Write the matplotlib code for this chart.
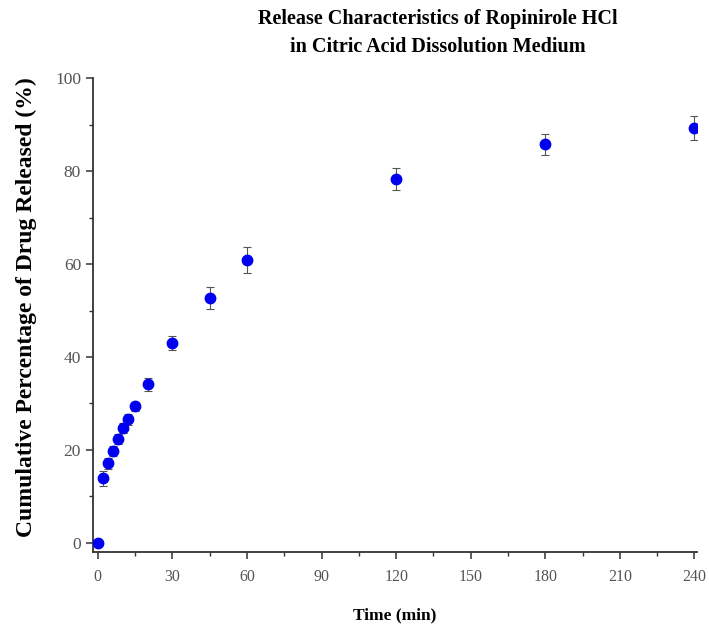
import matplotlib

matplotlib.use("Agg")
import matplotlib.pyplot as plt
from matplotlib.ticker import MultipleLocator

time_min = [0, 2, 4, 6, 8, 10, 12, 15, 20, 30, 45, 60, 120, 180, 240]
released_pct = [0.0, 13.9, 17.1, 19.8, 22.4, 24.8, 26.6, 29.4, 34.1, 43.0, 52.7, 60.9, 78.3, 85.8, 89.3]
released_sd = [0.5, 1.6, 1.2, 1.1, 1.1, 1.1, 1.2, 1.0, 1.4, 1.6, 2.4, 2.8, 2.4, 2.3, 2.6]

plt.rcParams["font.family"] = ["Liberation Serif", "DejaVu Serif"]

fig = plt.figure(figsize=(7.09, 6.31), dpi=100)
ax = fig.add_axes([0.131, 0.125, 0.852, 0.751])

ax.errorbar(
    time_min,
    released_pct,
    yerr=released_sd,
    fmt="o",
    color="#0000f0",
    markersize=7.5,
    ecolor="#555555",
    elinewidth=0.8,
    capsize=3,
    capthick=0.8,
    zorder=3,
)

ax.set_xlim(-2, 241)
ax.set_ylim(-2, 100)
ax.xaxis.set_major_locator(MultipleLocator(30))
ax.xaxis.set_minor_locator(MultipleLocator(15))
ax.yaxis.set_major_locator(MultipleLocator(20))
ax.yaxis.set_minor_locator(MultipleLocator(10))

for side in ("top", "right"):
    ax.spines[side].set_visible(False)
for side in ("left", "bottom"):
    ax.spines[side].set_linewidth(1.3)
    ax.spines[side].set_color("#333333")

ax.tick_params(which="major", length=5, width=1.1, color="#333333", labelsize=11.5, labelcolor="#555555")
ax.tick_params(axis="y", which="major", labelsize=12.5)
ax.tick_params(axis="x", which="major", pad=7)
ax.tick_params(which="minor", length=3, width=1.0, color="#333333")

ax.set_xlabel("Time (min)", fontsize=12.5, fontweight="bold", labelpad=16)
ax.set_ylabel("Cumulative Percentage of Drug Released (%)", fontsize=17, fontweight="bold")
ax.yaxis.set_label_coords(-0.092, 0.517)

fig.text(
    0.618,
    0.948,
    "Release Characteristics of Ropinirole HCl\nin Citric Acid Dissolution Medium",
    ha="center",
    va="center",
    fontsize=14.5,
    fontweight="bold",
    linespacing=1.55,
)

fig.savefig("out.png", dpi=100)
plt.close(fig)
